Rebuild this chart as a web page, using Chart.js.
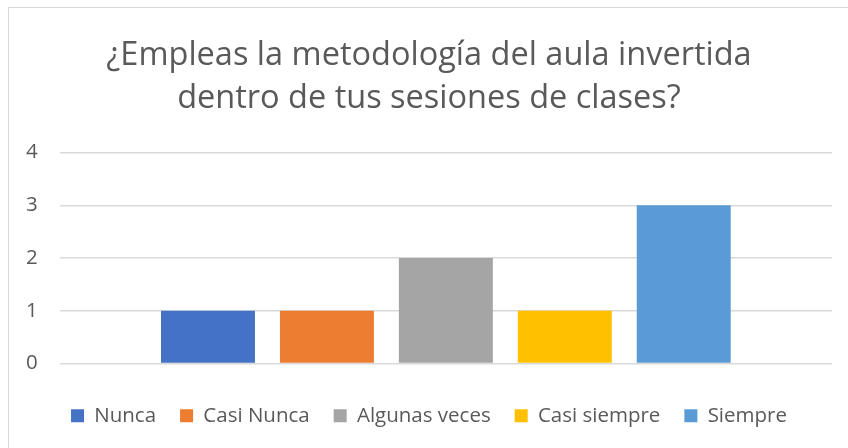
<!DOCTYPE html>
<html>
<head>
<meta charset="utf-8">
<script src="https://cdn.jsdelivr.net/npm/chart.js@4/dist/chart.umd.min.js"></script>
<style>
  body { margin: 0; background: #fff; overflow: hidden; }
  #marco { position: absolute; left: 8px; top: 7px; width: 900px; height: 500px; border: 1px solid #d9d9d9; }
  #caja { position: absolute; left: 0; top: 0; width: 870px; height: 448px; }
</style>
</head>
<body>
<div id="marco"></div>
<div id="caja"><canvas id="grafico"></canvas></div>
<script>
// datos del gráfico
var categorias = [''];
var respuestas = ['Nunca', 'Casi Nunca', 'Algunas veces', 'Casi siempre', 'Siempre'];
var valores = [1, 1, 2, 1, 3];
var colores = ['#4472c4', '#ed7d31', '#a5a5a5', '#ffc000', '#5b9bd5'];
var marcasY = [0, 1, 2, 3, 4];

var fuente = "'Open Sans', sans-serif";
var gris = '#595959';

var conjuntos = respuestas.map(function(r, i) {
  return {
    label: r,
    data: [valores[i]],
    backgroundColor: colores[i],
    borderWidth: 0,
    categoryPercentage: 0.77,
    barPercentage: 0.79
  };
});

var ctx = document.getElementById('grafico').getContext('2d');
new Chart(ctx, {
  type: 'bar',
  data: { labels: categorias, datasets: conjuntos },
  options: {
    responsive: true,
    maintainAspectRatio: false,
    animation: false,
    layout: { padding: { left: 26, right: 38, top: 35, bottom: 12 } },
    plugins: {
      title: {
        display: true,
        text: ['¿Empleas la metodología del aula invertida', 'dentro de tus sesiones de clases?'],
        color: gris,
        font: { family: fuente, size: 32.5, weight: 'normal', lineHeight: 1.3 },
        padding: { top: 0, bottom: 33 }
      },
      legend: {
        position: 'bottom',
        labels: {
          color: gris,
          font: { family: fuente, size: 20.5 },
          boxWidth: 13,
          boxHeight: 13,
          padding: 24
        }
      },
      tooltip: { enabled: false }
    },
    scales: {
      x: {
        grid: { display: false },
        border: { display: false },
        ticks: { display: false },
        afterFit: function(eje) { eje.height = 18; }
      },
      y: {
        min: 0,
        max: 4,
        afterBuildTicks: function(eje) {
          eje.ticks = marcasY.map(function(v) { return { value: v }; });
        },
        // el eje queda más estrecho para que el área de trazado empiece en x=60
        afterFit: function(eje) { eje.width = eje.width - 22; },
        grid: { color: '#d9d9d9', lineWidth: 1.5, drawTicks: false },
        border: { display: false },
        ticks: {
          color: gris,
          font: { family: fuente, size: 20.5 },
          padding: 22
        }
      }
    }
  }
});
</script>
</body>
</html>
